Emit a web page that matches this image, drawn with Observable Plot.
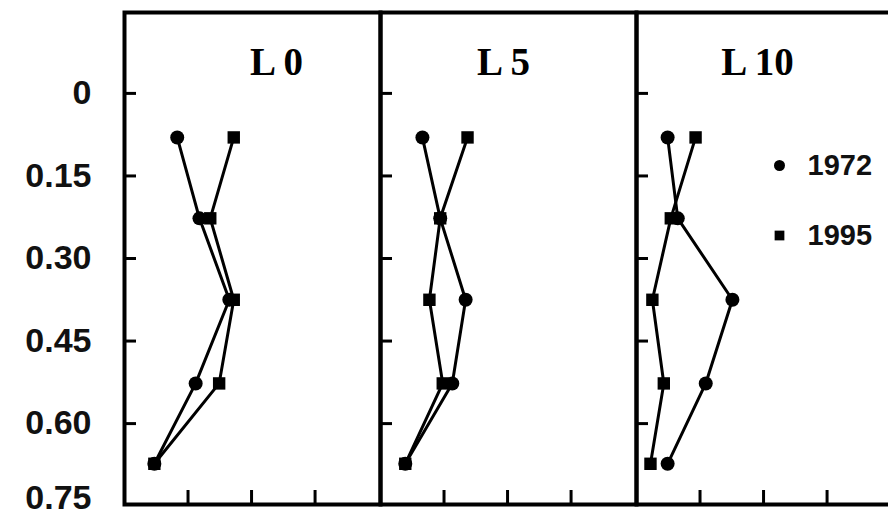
<!DOCTYPE html>
<html><head><meta charset="utf-8">
<script src="https://cdn.jsdelivr.net/npm/d3@7"></script>
<script src="https://cdn.jsdelivr.net/npm/@observablehq/plot@0.6"></script>
<style>
html,body{margin:0;padding:0;background:#fff;overflow:hidden;width:888px;height:517px}
#chart{width:888px;height:517px;overflow:hidden}
#chart svg{max-width:none !important;width:896px !important;height:517px !important}
</style>
</head><body><div id="chart"></div>
<script>
const panels = ["L 0", "L 5", "L 10"];
const years = ["1972", "1995"];
const depths = [0.08, 0.227, 0.375, 0.527, 0.673];
const L0_1972 = [0.83, 1.18, 1.65, 1.12, 0.47];
const L0_1995 = [1.72, 1.35, 1.72, 1.49, 0.47];
const L5_1972 = [0.66, 0.94, 1.34, 1.13, 0.39];
const L5_1995 = [1.37, 0.94, 0.77, 0.98, 0.39];
const L10_1972 = [0.49, 0.65, 1.51, 1.09, 0.49];
const L10_1995 = [0.93, 0.54, 0.25, 0.43, 0.22];
const yTicks = [0, 0.15, 0.30, 0.45, 0.60, 0.75];
const yTickLabels = ["0", "0.15", "0.30", "0.45", "0.60", "0.75"];
const xTicks = [1, 2, 3];

const series = {
  "L 0": {"1972": L0_1972, "1995": L0_1995},
  "L 5": {"1972": L5_1972, "1995": L5_1995},
  "L 10": {"1972": L10_1972, "1995": L10_1995}
};
const data = [];
for (const p of panels) for (const yr of years)
  series[p][yr].forEach((v, i) => data.push({panel: p, year: yr, value: v, depth: depths[i]}));

const serif = "'Liberation Serif', 'Times New Roman', serif";
const titleOpts = {frameAnchor: "top", lineAnchor: "bottom", dy: 62, fontFamily: serif, fontWeight: "bold", fontSize: 39, fill: "black"};
const legText = {frameAnchor: "top-left", lineAnchor: "middle", dx: 171, textAnchor: "start", fontSize: 29, fontWeight: "bold", fill: "#111"};
const fmt = d => yTickLabels[yTicks.indexOf(d)];
const labelOpts = {fx: () => panels[0], y: d => d, text: fmt, frameAnchor: "left", dx: -33, textAnchor: "end", lineAnchor: "middle", fontSize: 34, fontWeight: "bold", fill: "#111"};

const chart = Plot.plot({
  width: 896, height: 517,
  marginLeft: 123, marginRight: 3, marginTop: 12, marginBottom: 13,
  fx: {domain: panels, padding: 0, axis: null},
  x: {domain: [0, 4.03], axis: null},
  y: {domain: [-0.147, 0.747], reverse: true, axis: null},
  symbol: {domain: years, range: ["circle", "square"]},
  style: {fontFamily: "'Liberation Sans', Arial, sans-serif", background: "white", color: "black", overflow: "visible"},
  marks: [
    Plot.tickY(yTicks.slice(0, 5), {y: d => d, stroke: "black", strokeWidth: 3, insetRight: 244}),
    Plot.tickX(xTicks, {x: d => d, stroke: "black", strokeWidth: 3, insetTop: 478}),
    Plot.text(yTicks.slice(0, 5), labelOpts),
    Plot.text(yTicks.slice(5), {...labelOpts, dy: -8}),
    Plot.frame({stroke: "black", strokeWidth: 4}),
    Plot.line(data, {fx: "panel", x: "value", y: "depth", z: "year", stroke: "black", strokeWidth: 3}),
    Plot.dot(data, {fx: "panel", x: "value", y: "depth", symbol: "year", fill: "black", r: 7}),
    Plot.text([panels[0]], {...titleOpts, fx: d => d, text: d => d, dx: 24}),
    Plot.text([panels[1]], {...titleOpts, fx: d => d, text: d => d, dx: -5}),
    Plot.text([panels[2]], {...titleOpts, fx: d => d, text: d => d, dx: -7}),
    Plot.dot([years[0]], {fx: () => panels[2], frameAnchor: "top-left", dx: 143, dy: 153, symbol: d => d, fill: "black", r: 5.5}),
    Plot.dot([years[1]], {fx: () => panels[2], frameAnchor: "top-left", dx: 143, dy: 223, symbol: d => d, fill: "black", r: 5.5}),
    Plot.text([years[0]], {...legText, fx: () => panels[2], dy: 153, text: d => d}),
    Plot.text([years[1]], {...legText, fx: () => panels[2], dy: 223, text: d => d})
  ]
});
document.getElementById("chart").appendChild(chart);
</script>
</body></html>
